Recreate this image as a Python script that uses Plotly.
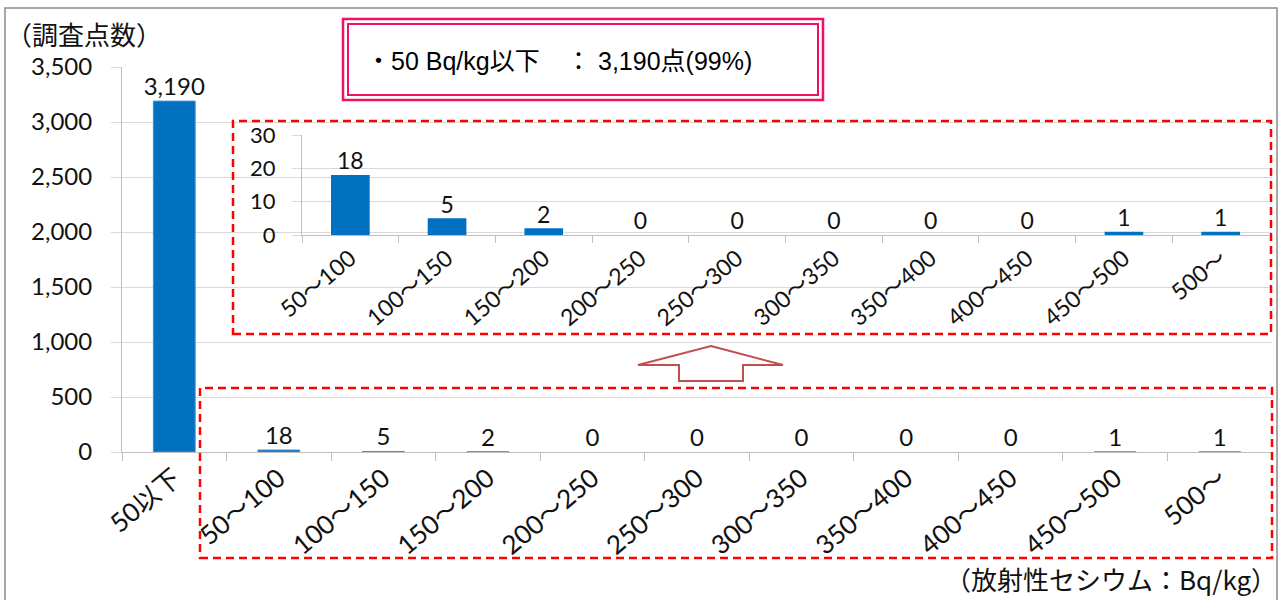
import plotly.graph_objects as go

# Survey point counts by radioactive cesium concentration (Bq/kg)
main_categories = ["50以下", "50～100", "100～150", "150～200", "200～250", "250～300",
                   "300～350", "350～400", "400～450", "450～500", "500～"]
main_counts = [3190, 18, 5, 2, 0, 0, 0, 0, 0, 1, 1]

# Detail of everything above 50 Bq/kg
detail_categories = main_categories[1:]
detail_counts = main_counts[1:]

main_ticks = [0, 500, 1000, 1500, 2000, 2500, 3000, 3500]
detail_ticks = [0, 10, 20, 30]

W, H = 1281, 600
BLUE = "#0070C0"
GRID = "#D9D9D9"
AXIS = "#BFBFBF"
INK = "#111111"
FONT = "Lato, 'Noto Sans CJK JP', sans-serif"
JP = "'Noto Sans CJK JP', sans-serif"
BOX_FONT = "'Liberation Sans', 'Noto Sans CJK JP', sans-serif"


def px(x):
    return x / W


def py(y):
    return 1 - y / H


fig = go.Figure()

# main bars
fig.add_trace(go.Bar(
    x=main_categories, y=main_counts,
    marker=dict(color=BLUE,
                line=dict(color="#4A90D0", width=[0 if v == 0 else 1 for v in main_counts])),
    width=0.4, xaxis="x", yaxis="y", hoverinfo="skip", showlegend=False,
))
fig.add_trace(go.Scatter(
    x=main_categories, y=main_counts, mode="text",
    text=[f"{v:,}" for v in main_counts], textposition="top center",
    textfont=dict(family=FONT, size=24, color=INK),
    xaxis="x", yaxis="y", hoverinfo="skip", showlegend=False, cliponaxis=False,
))

# detail bars
fig.add_trace(go.Bar(
    x=detail_categories, y=detail_counts,
    marker=dict(color=BLUE, line=dict(width=0)),
    width=0.4, xaxis="x2", yaxis="y2", hoverinfo="skip", showlegend=False,
))
fig.add_trace(go.Scatter(
    x=detail_categories, y=detail_counts, mode="text",
    text=[f"{v:,}" for v in detail_counts], textposition="top center",
    textfont=dict(family=FONT, size=23, color=INK),
    xaxis="x2", yaxis="y2", hoverinfo="skip", showlegend=False, cliponaxis=False,
))

shapes = []
# outer frame
shapes.append(dict(type="rect", xref="paper", yref="paper",
                   x0=px(5), y0=py(640), x1=px(1277), y1=py(8),
                   line=dict(color="#8C8C8C", width=1.5), layer="below"))
# dashed frames around the detail chart and the small values
for (x0, y0, x1, y1) in [(233, 121, 1271, 334), (200, 388, 1272, 558)]:
    shapes.append(dict(type="rect", xref="paper", yref="paper",
                       x0=px(x0), y0=py(y1), x1=px(x1), y1=py(y0),
                       line=dict(color="#FF0000", width=2.5, dash="8px,5px"),
                       layer="above"))
# summary box with double pink border
shapes.append(dict(type="rect", xref="paper", yref="paper",
                   x0=px(343), y0=py(100), x1=px(823), y1=py(19),
                   line=dict(color="#EE1166", width=2.5), fillcolor="white", layer="above"))
shapes.append(dict(type="rect", xref="paper", yref="paper",
                   x0=px(348), y0=py(95), x1=px(818), y1=py(24),
                   line=dict(color="#EE1166", width=2), layer="above"))
# hollow up arrow
arrow_pts = [(711, 346), (783, 365), (743, 365), (743, 381), (679, 381), (679, 365), (638, 365)]
path = "M " + " L ".join(f"{px(x):.5f},{py(y):.5f}" for x, y in arrow_pts) + " Z"
shapes.append(dict(type="path", xref="paper", yref="paper", path=path,
                   line=dict(color="#C0504D", width=2), fillcolor="white", layer="above"))

box_font = dict(family=BOX_FONT, size=25, color="#000000")
annotations = [
    dict(text="（調査点数）", xref="paper", yref="paper", x=px(4), y=py(33),
         xanchor="left", yanchor="middle", showarrow=False,
         font=dict(family=JP, size=26, color=INK)),
    dict(text="（放射性セシウム：Bq/kg）", xref="paper", yref="paper", x=px(1279), y=py(578),
         xanchor="right", yanchor="middle", showarrow=False,
         font=dict(family=JP, size=26, color=INK)),
    # summary line, laid out in three pieces
    dict(text="・50 Bq/kg以下", xref="paper", yref="paper", x=px(364), y=py(61),
         xanchor="left", yanchor="middle", showarrow=False, font=box_font),
    dict(text="：", xref="paper", yref="paper", x=px(578), y=py(61),
         xanchor="center", yanchor="middle", showarrow=False, font=box_font),
    dict(text="3,190点(99%)", xref="paper", yref="paper", x=px(596), y=py(61),
         xanchor="left", yanchor="middle", showarrow=False, font=box_font),
]

axis_common = dict(showgrid=False, zeroline=False, showline=True, linecolor=AXIS, linewidth=1,
                   ticks="outside", tickcolor=AXIS, tickson="boundaries", tickangle=-40,
                   type="category", fixedrange=True, automargin=False)

fig.update_layout(
    template="none",
    width=W, height=H,
    margin=dict(l=0, r=0, t=0, b=0, pad=0),
    paper_bgcolor="white", plot_bgcolor="rgba(0,0,0,0)",
    font=dict(family=FONT, color=INK),
    bargap=0.6,
    xaxis=dict(domain=[px(122), px(1272)], anchor="y", ticklen=8,
               range=[-0.5, len(main_categories) - 0.5],
               tickfont=dict(family=FONT, size=26, color=INK), **axis_common),
    yaxis=dict(domain=[py(452), py(67)], anchor="x", range=[0, 3500],
               tickvals=main_ticks, tickformat=",d", automargin=False,
               showgrid=True, gridcolor=GRID, gridwidth=1, zeroline=False,
               showline=True, linecolor=AXIS, ticks="outside", ticklen=10, tickcolor=GRID,
               ticklabelstandoff=14, tickfont=dict(family=FONT, size=24, color=INK),
               fixedrange=True),
    xaxis2=dict(domain=[px(302), px(1269)], anchor="y2", ticklen=7,
                range=[-0.5, len(detail_categories) - 0.5],
                tickfont=dict(family=FONT, size=23, color=INK), **axis_common),
    yaxis2=dict(domain=[py(235), py(135)], anchor="x2", range=[0, 30],
                tickvals=detail_ticks, automargin=False,
                showgrid=True, gridcolor=GRID, gridwidth=1, zeroline=False,
                showline=True, linecolor=AXIS, ticks="outside", ticklen=9, tickcolor=GRID,
                ticklabelstandoff=12, tickfont=dict(family=FONT, size=22, color=INK),
                fixedrange=True),
    shapes=shapes,
    annotations=annotations,
)

fig.write_html("out.html")
